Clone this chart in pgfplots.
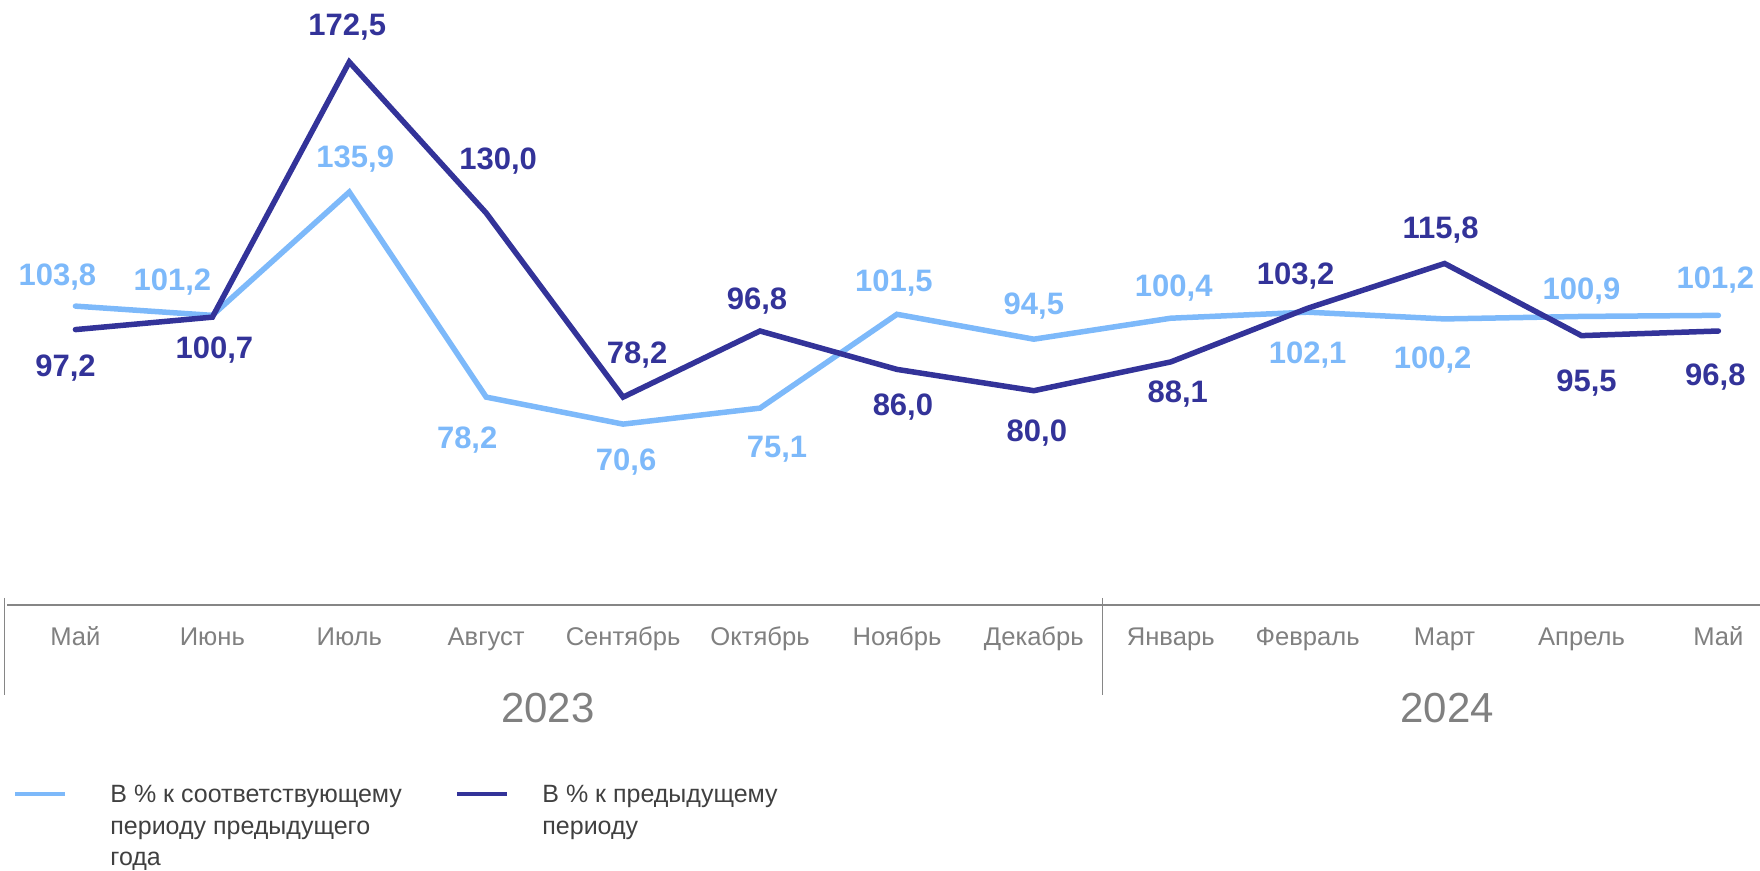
\documentclass[border=0pt]{standalone}
\usepackage{pgfplots}
\pgfplotsset{compat=1.18}
\usepackage{pgfplotstable}
\usepackage{fontspec}
\setmainfont{Liberation Sans}
\definecolor{lightc}{RGB}{125,185,250}
\definecolor{darkc}{RGB}{51,51,153}
\definecolor{axgray}{RGB}{134,134,134}
\definecolor{labgray}{RGB}{128,128,128}
\definecolor{legtext}{RGB}{64,64,64}
\pgfplotsset{/pgf/number format/assume math mode=true}

\pgfplotstableread{
i v dx dy
0 103.8 -9 15.5
1 101.2 -20 18
2 135.9 3 17.5
3 78.2 -9.5 -20.5
4 70.6 1.5 -18
5 75.1 8.5 -19.5
6 101.5 -1.5 17
7 94.5 0 18
8 100.4 1.5 16.5
9 102.1 0 -20.5
10 100.2 -6 -19.5
11 100.9 0 14
12 101.2 -1.5 19
}\lightdata

\pgfplotstableread{
i v dx dy
0 97.2 -5 -18
1 100.7 1 -15.5
2 172.5 -1 18.5
3 130.0 6 27
4 78.2 7 22
5 96.8 -1.5 16
6 86.0 3 -17.5
7 80.0 1.5 -20
8 88.1 3.5 -15
9 103.2 -6 17.5
10 115.8 -2 18
11 95.5 2.5 -22.5
12 96.8 -1.5 -22
}\darkdata

\begin{document}
\begin{tikzpicture}
\useasboundingbox (0,0) rectangle (880pt,435.5pt);
\begin{axis}[
  at={(3.5pt,133pt)}, anchor=south west,
  scale only axis, width=876.5pt, height=302.5pt,
  xmin=-0.5, xmax=12.304, ymin=19.7, ymax=189.95,
  clip=false,
  axis y line=none, ytick=\empty,
  axis x line*=bottom,
  x axis line style={-, draw=axgray, line width=1pt},
  xtick={0,...,12},
  xticklabels={Май,Июнь,Июль,Август,Сентябрь,Октябрь,Ноябрь,Декабрь,Январь,Февраль,Март,Апрель,Май},
  major tick length=0pt,
  xticklabel style={anchor=base, yshift=-20.35pt, font=\fontsize{12.8}{15}\selectfont, text=labgray},
  nodes near coords={\pgfmathprintnumber[fixed,fixed zerofill,precision=1,use comma]{\pgfplotspointmeta}},
  point meta=y,
  visualization depends on={\thisrow{dx}\as\dx},
  visualization depends on={\thisrow{dy}\as\dy},
]
\addplot[lightc, line width=2.75pt, line join=miter, line cap=round,
  every node near coord/.append style={anchor=center, xshift=\dx*1pt, yshift=\dy*1pt,
    font=\fontsize{15.5}{18}\selectfont\bfseries, text=lightc, text depth=0pt}]
  table[x=i,y=v] {\lightdata};
\addplot[darkc, line width=2.75pt, line join=miter, line cap=round,
  every node near coord/.append style={anchor=center, xshift=\dx*1pt, yshift=\dy*1pt,
    font=\fontsize{15.5}{18}\selectfont\bfseries, text=darkc, text depth=0pt}]
  table[x=i,y=v] {\darkdata};
\draw[axgray, line width=0.5pt] ([yshift=3.5pt]axis cs:-0.52,19.7) -- ([yshift=-45pt]axis cs:-0.52,19.7);
\draw[axgray, line width=0.5pt] ([yshift=3.5pt]axis cs:7.5,19.7) -- ([yshift=-45pt]axis cs:7.5,19.7);
\node[anchor=base, yshift=-58.9pt, font=\fontsize{21}{25}\selectfont, text=labgray] at (axis cs:3.45,19.7) {2023};
\node[anchor=base, yshift=-58.9pt, font=\fontsize{21}{25}\selectfont, text=labgray] at (axis cs:10.02,19.7) {2024};
\end{axis}
\draw[lightc, line width=2.2pt] (7.5pt,38.5pt) -- (32.5pt,38.5pt);
\draw[darkc, line width=2.2pt] (228.5pt,38.5pt) -- (253.5pt,38.5pt);
\begin{scope}[every node/.style={anchor=base west, inner sep=0pt, font=\fontsize{12.5}{15}\selectfont, text=legtext}]
\node at (55pt,34.15pt) {В \% к соответствующему};
\node at (55pt,18.4pt) {периоду предыдущего};
\node at (55pt,2.65pt) {года};
\node at (271pt,34.15pt) {В \% к предыдущему};
\node at (271pt,18.4pt) {периоду};
\end{scope}
\end{tikzpicture}
\end{document}
